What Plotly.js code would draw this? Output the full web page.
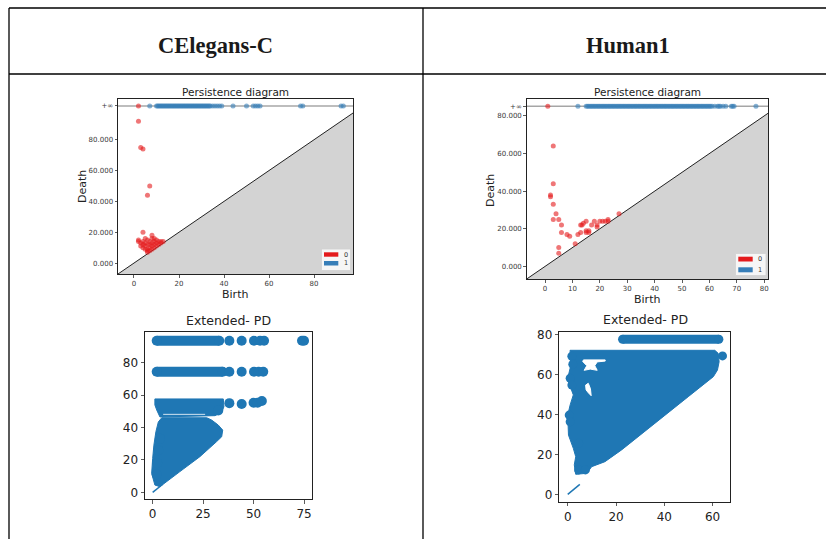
<!DOCTYPE html>
<html>
<head>
<meta charset="utf-8">
<script src="https://cdn.plot.ly/plotly-3.0.1.min.js"></script>
<style>html,body{margin:0;padding:0;background:#fff;}#chart{width:826px;height:539px;}</style>
</head>
<body>
<div id="chart"></div>
<script>
// ---------------- DATA ----------------
const headers = ["CElegans-C", "Human1"];

// Persistence diagram, CElegans-C
const ceRedX = [2, 3, 4, 7, 6, 4, 2, 2, 3, 4, 4, 5, 5, 6, 6, 6, 7, 7, 7, 8, 8, 8, 8, 8, 9, 9, 9, 10, 10, 11, 11, 12, 12, 13, 6, 7, 5, 3, 4, 9, 10, 6, 5];
const ceRedY = [92, 75, 74, 50, 44, 20, 15, 14, 13, 12, 10, 11, 13, 9, 12, 8, 10, 12, 14, 9, 11, 13, 16, 18, 12, 10, 14, 11, 13, 12, 14, 13, 14, 14, 7, 8, 9, 11, 14, 16, 15, 15, 16];
const ceRedInfX = [2];
const ceBlueInfX = [7, 10, 10.5, 11, 11.5, 12, 12.5, 13, 13.5, 14, 14.5, 15, 15.5, 16, 16.5, 17, 17.5, 18, 18.5, 19, 19.5, 20, 20.5, 21, 21.5, 22, 22.5, 23, 23.5, 24, 24.5, 25, 25.5, 26, 26.5, 27, 27.5, 28, 28.5, 29, 29.5, 30, 30.5, 31, 31.5, 32, 32.5, 33, 33.5, 34, 35, 36, 37, 38, 39, 44, 50, 53, 54, 55, 56, 74, 75, 92, 93];

// Persistence diagram, Human1
const huRedX = [3, 3, 2, 2, 3, 4, 3, 5, 6, 6, 8, 9, 5, 5, 11, 12, 13, 13, 13.5, 14, 15, 15, 15, 16, 16, 17, 18, 19, 19, 20, 21, 22, 23, 23, 27];
const huRedY = [64, 44, 38, 37, 33, 28, 25, 25, 22, 18, 17, 16, 10, 7, 12, 17, 18, 22, 22, 23, 24, 19, 18, 19, 18, 22, 24, 22, 21, 24, 24, 24, 25, 24, 28];
const huRedInfX = [1];
const huBlueInfX = [12, 15, 15.5, 16, 16.5, 17, 17.5, 18, 18.5, 19, 19.5, 20, 20.5, 21, 21.5, 22, 22.5, 23, 23.5, 24, 24.5, 25, 25.5, 26, 26.5, 27, 27.5, 28, 28.5, 29, 29.5, 30, 30.5, 31, 31.5, 32, 32.5, 33, 33.5, 34, 34.5, 35, 35.5, 36, 36.5, 37, 37.5, 38, 38.5, 39, 39.5, 40, 40.5, 41, 41.5, 42, 42.5, 43, 43.5, 44, 44.5, 45, 45.5, 46, 46.5, 47, 47.5, 48, 48.5, 49, 49.5, 50, 50.5, 51, 51.5, 52, 52.5, 53, 53.5, 54, 54.5, 55, 55.5, 56, 56.5, 57, 57.5, 58, 58.5, 59, 59.5, 60, 60.5, 61, 62, 63, 63.5, 64, 65, 66, 68, 68.5, 69, 77];

// Extended PD, CElegans-C
const ceRowY  = [93.5, 74.4];
const ceRowX0 = [2, 2];
const ceRowX1 = [33, 34.7];
const ceDotX = [38, 44.1, 50.2, 53.2, 55.2, 74, 75, 38, 44.1, 50.2, 52.5, 54.8, 38, 44.1, 50, 52, 54.1, 32.5, 2, 2.2, 2.8, 3.6];
const ceDotY = [93.5, 93.5, 93.5, 93.5, 93.5, 93.5, 93.5, 74.4, 74.4, 74.4, 74.4, 74.4, 55, 54.5, 55.3, 55.3, 56.3, 50.5, 11, 18, 26, 33];
const ceBandX = [1.1, 35.0, 35.3, 34.2, 30.9, 3.6, 2.0, 1.1];
const ceBandY = [57.6, 57.6, 52.8, 49.3, 47.3, 46.5, 50.8, 53.9];
const ceBlobX = [4.5, 26.8, 29.2, 32.5, 34.7, 34.2, 31.7, 23.4, 13.5, 6.9, 3.6, 1.1, -0.5, 0, 0.6, 1.6, 2.8];
const ceBlobY = [46.0, 46.0, 44.6, 41.5, 38.4, 34.3, 31.3, 22.0, 12.8, 6.6, 3.5, 4.5, 11.7, 20.9, 29.1, 37.4, 43.4];
const ceGapX = [5.2, 26];
const ceGapY = [48.1, 48.1];
const ceDiagX = [0, 5];
const ceDiagY = [0, 5];

// Extended PD, Human1
const huRowY  = [77.5];
const huRowX0 = [22.7];
const huRowX1 = [62.6];
const huDotX = [64.1, 1.7, 2.1, 1.0, 1.7, 0.6, 1.0, 4.5, 4.5, 7.3];
const huDotY = [69.2, 69.0, 65.0, 58.0, 54.6, 39.6, 36.3, 25.5, 12.2, 12.2];
const huBlobX = [0.95, 60.9, 62.3, 62.7, 62.0, 60.3, 49.9, 36.1, 22.3, 15.4, 9.9, 7.9, 3.3, 2.7, 3.3, 2.3, 0.3, 0.0, 1.0, 2.3, 0.3, 0.3, 1.3];
const huBlobY = [72.0, 72.0, 70.5, 66.3, 62.1, 58.8, 48.8, 35.5, 22.2, 16.3, 13.8, 10.5, 10.0, 14.7, 18.8, 23.0, 29.6, 39.6, 44.7, 49.7, 56.3, 59.6, 64.6];
const huHole1X = [6.5, 15.5, 15.5, 12.2, 11.2, 12.2, 9.3, 6.8, 7.9, 6.2];
const huHole1Y = [67.2, 67.2, 66.6, 66.2, 64.3, 62.0, 62.6, 62.0, 64.3, 66.4];
const huHole2X = [7.4, 8.5, 9.4, 9.7, 8.5, 7.6];
const huHole2Y = [54.6, 55.5, 52.8, 49.3, 50.8, 52.2];
const huDiagX = [0, 5];
const huDiagY = [0, 5];

// tick labels
const pdYTickVals = [0, 20, 40, 60, 80];
const pdYTickText = ["0.000", "20.000", "40.000", "60.000", "80.000"];
const ceXTicks = [0, 20, 40, 60, 80];
const huXTicks = [0, 10, 20, 30, 40, 50, 60, 70, 80];
const ceExtXTicks = [0, 25, 50, 75];
const huExtXTicks = [0, 20, 40, 60];
const extYTicks = [0, 20, 40, 60, 80];

// ---------------- LAYOUT HELPERS ----------------
const W = 826, H = 539;
const fx = p => p / W;
const fy = p => 1 - p / H;

const RED = "#e41a1c", BLUE = "#377eb8", MPL = "#1f77b4";

// PD axis geometry
const ceStart = -7.1, ceEnd = 97.3, ceInf = 101.9, ceTop = 106.4;
const huStart = -6.7, huEnd = 81.4, huInf = 85.2, huTop = 89.0;

function rep(v, n) { return new Array(n).fill(v); }

function rowsTrace(x0, x1, y, xa, ya, w) {
  const xs = [], ys = [];
  for (let i = 0; i < y.length; i++) { xs.push(x0[i], x1[i], null); ys.push(y[i], y[i], null); }
  return {x: xs, y: ys, xaxis: xa, yaxis: ya, mode: "lines", line: {color: MPL, width: w}, hoverinfo: "skip", showlegend: false};
}
function rowEnds(x0, x1, y, xa, ya, s) {
  const xs = [], ys = [];
  for (let i = 0; i < y.length; i++) { xs.push(x0[i], x1[i]); ys.push(y[i], y[i]); }
  return {x: xs, y: ys, xaxis: xa, yaxis: ya, mode: "markers", marker: {color: MPL, size: s, line: {width: 0}}, showlegend: false};
}
function poly(x, y, xa, ya, color) {
  return {x: x.concat([x[0]]), y: y.concat([y[0]]), xaxis: xa, yaxis: ya, mode: "lines", fill: "toself",
    fillcolor: color, line: {color: color, width: 1}, hoverinfo: "skip", showlegend: false};
}

const data = [
  // PD CElegans
  {x: ceRedX, y: ceRedY, xaxis: "x", yaxis: "y", mode: "markers", marker: {color: RED, size: 5, opacity: 0.6, line: {width: 0}}, showlegend: false},
  {x: ceRedInfX, y: rep(ceInf, ceRedInfX.length), xaxis: "x", yaxis: "y", mode: "markers", marker: {color: RED, size: 5, opacity: 0.6, line: {width: 0}}, showlegend: false},
  {x: ceBlueInfX, y: rep(ceInf, ceBlueInfX.length), xaxis: "x", yaxis: "y", mode: "markers", marker: {color: BLUE, size: 5, opacity: 0.6, line: {width: 0}}, showlegend: false},
  // PD Human
  {x: huRedX, y: huRedY, xaxis: "x2", yaxis: "y2", mode: "markers", marker: {color: RED, size: 5, opacity: 0.6, line: {width: 0}}, showlegend: false},
  {x: huRedInfX, y: rep(huInf, huRedInfX.length), xaxis: "x2", yaxis: "y2", mode: "markers", marker: {color: RED, size: 5, opacity: 0.6, line: {width: 0}}, showlegend: false},
  {x: huBlueInfX, y: rep(huInf, huBlueInfX.length), xaxis: "x2", yaxis: "y2", mode: "markers", marker: {color: BLUE, size: 5, opacity: 0.6, line: {width: 0}}, showlegend: false},
  // Extended CElegans
  {x: ceDiagX, y: ceDiagY, xaxis: "x3", yaxis: "y3", mode: "lines", line: {color: MPL, width: 1.5}, showlegend: false},
  poly(ceBlobX, ceBlobY, "x3", "y3", MPL),
  poly(ceBandX, ceBandY, "x3", "y3", MPL),
  {x: ceGapX, y: ceGapY, xaxis: "x3", yaxis: "y3", mode: "lines", line: {color: "rgba(255,255,255,0.8)", width: 1}, showlegend: false},
  rowsTrace(ceRowX0, ceRowX1, ceRowY, "x3", "y3", 10),
  rowEnds(ceRowX0, ceRowX1, ceRowY, "x3", "y3", 10),
  {x: ceDotX, y: ceDotY, xaxis: "x3", yaxis: "y3", mode: "markers", marker: {color: MPL, size: 10, line: {width: 0}}, showlegend: false},
  // Extended Human
  {x: huDiagX, y: huDiagY, xaxis: "x4", yaxis: "y4", mode: "lines", line: {color: MPL, width: 1.5}, showlegend: false},
  poly(huBlobX, huBlobY, "x4", "y4", MPL),
  {x: huDotX, y: huDotY, xaxis: "x4", yaxis: "y4", mode: "markers", marker: {color: MPL, size: 9, line: {width: 0}}, showlegend: false},
  poly(huHole1X, huHole1Y, "x4", "y4", "#ffffff"),
  poly(huHole2X, huHole2Y, "x4", "y4", "#ffffff"),
  rowsTrace(huRowX0, huRowX1, huRowY, "x4", "y4", 9),
  rowEnds(huRowX0, huRowX1, huRowY, "x4", "y4", 9)
];

const pdTickFont = {family: "DejaVu Sans", size: 7, color: "#3a3a3a"};
const extTickFont = {family: "DejaVu Sans", size: 12, color: "#222"};

function axis(domain, range, vals, text, font, len, anchor) {
  const a = {domain: domain, range: range, tickmode: "array", tickvals: vals, ticks: "outside", ticklen: len, tickwidth: 0.8,
    tickcolor: "#333", showline: true, mirror: true, linecolor: "#222", linewidth: 1, showgrid: false, zeroline: false,
    tickfont: font, anchor: anchor, fixedrange: true};
  if (text) a.ticktext = text;
  return a;
}

const layout = {
  width: W, height: H,
  margin: {l: 0, r: 0, t: 0, b: 0},
  paper_bgcolor: "#fff", plot_bgcolor: "rgba(0,0,0,0)",
  showlegend: false,
  xaxis:  axis([fx(118), fx(353)], [ceStart, ceEnd], ceXTicks, null, pdTickFont, 2.5, "y"),
  yaxis:  axis([fy(274), fy(99)], [ceStart, ceTop], pdYTickVals.concat([ceInf]), pdYTickText.concat(["+\u221e"]), pdTickFont, 2.5, "x"),
  xaxis2: axis([fx(526.7), fx(768)], [huStart, huEnd], huXTicks, null, pdTickFont, 2.5, "y2"),
  yaxis2: axis([fy(279), fy(99)], [huStart, huTop], pdYTickVals.concat([huInf]), pdYTickText.concat(["+\u221e"]), pdTickFont, 2.5, "x2"),
  xaxis3: axis([fx(145), fx(311.7)], [-3.8, 78.8], ceExtXTicks, null, extTickFont, 3.5, "y3"),
  yaxis3: axis([fy(499), fy(332.3)], [-4.1, 98.7], extYTicks, null, extTickFont, 3.5, "x3"),
  xaxis4: axis([fx(559.3), fx(730)], [-3.5, 67.2], huExtXTicks, null, extTickFont, 3.5, "y4"),
  yaxis4: axis([fy(501.7), fy(331.7)], [-3.7, 81.3], extYTicks, null, extTickFont, 3.5, "x4"),
  shapes: [
    // table lines
    {type: "line", xref: "paper", yref: "paper", x0: fx(9), x1: fx(826), y0: fy(8), y1: fy(8), line: {color: "#000", width: 1.3}},
    {type: "line", xref: "paper", yref: "paper", x0: fx(9), x1: fx(826), y0: fy(74), y1: fy(74), line: {color: "#000", width: 1.3}},
    {type: "line", xref: "paper", yref: "paper", x0: fx(9), x1: fx(9), y0: fy(8), y1: fy(539), line: {color: "#000", width: 1.3}},
    {type: "line", xref: "paper", yref: "paper", x0: fx(423), x1: fx(423), y0: fy(8), y1: fy(539), line: {color: "#000", width: 1.3}},
    // PD CElegans decorations
    {type: "path", xref: "x", yref: "y", path: `M ${ceStart},${ceStart} L ${ceEnd},${ceEnd} L ${ceEnd},${ceStart} Z`, fillcolor: "#d3d3d3", line: {width: 0}, layer: "below"},
    {type: "line", xref: "x", yref: "y", x0: ceStart, y0: ceStart, x1: ceEnd, y1: ceEnd, line: {color: "#222", width: 1}, layer: "below"},
    {type: "line", xref: "x", yref: "y", x0: ceStart, y0: ceInf, x1: ceEnd, y1: ceInf, line: {color: "rgba(0,0,0,0.35)", width: 1.5}, layer: "below"},
    // PD Human decorations
    {type: "path", xref: "x2", yref: "y2", path: `M ${huStart},${huStart} L ${huEnd},${huEnd} L ${huEnd},${huStart} Z`, fillcolor: "#d3d3d3", line: {width: 0}, layer: "below"},
    {type: "line", xref: "x2", yref: "y2", x0: huStart, y0: huStart, x1: huEnd, y1: huEnd, line: {color: "#222", width: 1}, layer: "below"},
    {type: "line", xref: "x2", yref: "y2", x0: huStart, y0: huInf, x1: huEnd, y1: huInf, line: {color: "rgba(0,0,0,0.35)", width: 1.5}, layer: "below"},
    // legend CElegans
    {type: "rect", xref: "paper", yref: "paper", x0: fx(321.5), x1: fx(350.5), y0: fy(249), y1: fy(270.5), fillcolor: "rgba(255,255,255,0.8)", line: {color: "#d0d0d0", width: 0.8}},
    {type: "rect", xref: "paper", yref: "paper", x0: fx(324), x1: fx(338.3), y0: fy(252.3), y1: fy(256.7), fillcolor: RED, line: {width: 0}},
    {type: "rect", xref: "paper", yref: "paper", x0: fx(324), x1: fx(338.3), y0: fy(261), y1: fy(265.5), fillcolor: BLUE, line: {width: 0}},
    // legend Human
    {type: "rect", xref: "paper", yref: "paper", x0: fx(735.5), x1: fx(766), y0: fy(253.5), y1: fy(275.5), fillcolor: "rgba(255,255,255,0.8)", line: {color: "#d0d0d0", width: 0.8}},
    {type: "rect", xref: "paper", yref: "paper", x0: fx(738.3), x1: fx(752.7), y0: fy(256.7), y1: fy(261.5), fillcolor: RED, line: {width: 0}},
    {type: "rect", xref: "paper", yref: "paper", x0: fx(738.3), x1: fx(752.7), y0: fy(267.3), y1: fy(272.3), fillcolor: BLUE, line: {width: 0}}
  ],
  annotations: [
    {text: "<b>" + headers[0] + "</b>", x: fx(215.5), y: fy(45), xref: "paper", yref: "paper", showarrow: false, xanchor: "center", yanchor: "middle", font: {family: "Liberation Serif", size: 22.5, color: "#1a1a1a"}},
    {text: "<b>" + headers[1] + "</b>", x: fx(627.5), y: fy(45), xref: "paper", yref: "paper", showarrow: false, xanchor: "center", yanchor: "middle", font: {family: "Liberation Serif", size: 22.5, color: "#1a1a1a"}},
    {text: "Persistence diagram", x: fx(235.5), y: fy(92), xref: "paper", yref: "paper", showarrow: false, xanchor: "center", yanchor: "middle", font: {family: "DejaVu Sans", size: 10.5, color: "#222"}},
    {text: "Persistence diagram", x: fx(647), y: fy(92), xref: "paper", yref: "paper", showarrow: false, xanchor: "center", yanchor: "middle", font: {family: "DejaVu Sans", size: 10.5, color: "#222"}},
    {text: "Birth", x: fx(235), y: fy(294), xref: "paper", yref: "paper", showarrow: false, xanchor: "center", yanchor: "middle", font: {family: "DejaVu Sans", size: 11, color: "#222"}},
    {text: "Birth", x: fx(646.7), y: fy(299.5), xref: "paper", yref: "paper", showarrow: false, xanchor: "center", yanchor: "middle", font: {family: "DejaVu Sans", size: 11, color: "#222"}},
    {text: "Death", x: fx(83), y: fy(187), xref: "paper", yref: "paper", showarrow: false, textangle: -90, xanchor: "center", yanchor: "middle", font: {family: "DejaVu Sans", size: 11, color: "#222"}},
    {text: "Death", x: fx(490), y: fy(191), xref: "paper", yref: "paper", showarrow: false, textangle: -90, xanchor: "center", yanchor: "middle", font: {family: "DejaVu Sans", size: 11, color: "#222"}},
    {text: "0", x: fx(345.5), y: fy(254.5), xref: "paper", yref: "paper", showarrow: false, xanchor: "center", yanchor: "middle", font: {family: "DejaVu Sans", size: 6.5, color: "#333"}},
    {text: "1", x: fx(345.5), y: fy(263.3), xref: "paper", yref: "paper", showarrow: false, xanchor: "center", yanchor: "middle", font: {family: "DejaVu Sans", size: 6.5, color: "#333"}},
    {text: "0", x: fx(760), y: fy(259), xref: "paper", yref: "paper", showarrow: false, xanchor: "center", yanchor: "middle", font: {family: "DejaVu Sans", size: 6.5, color: "#333"}},
    {text: "1", x: fx(760), y: fy(269.8), xref: "paper", yref: "paper", showarrow: false, xanchor: "center", yanchor: "middle", font: {family: "DejaVu Sans", size: 6.5, color: "#333"}},
    {text: "Extended- PD", x: fx(228), y: fy(320), xref: "paper", yref: "paper", showarrow: false, xanchor: "center", yanchor: "middle", font: {family: "DejaVu Sans", size: 12.5, color: "#222"}},
    {text: "Extended- PD", x: fx(645), y: fy(319), xref: "paper", yref: "paper", showarrow: false, xanchor: "center", yanchor: "middle", font: {family: "DejaVu Sans", size: 12.5, color: "#222"}}
  ]
};

Plotly.newPlot("chart", data, layout, {displayModeBar: false, staticPlot: true});
</script>
</body>
</html>
